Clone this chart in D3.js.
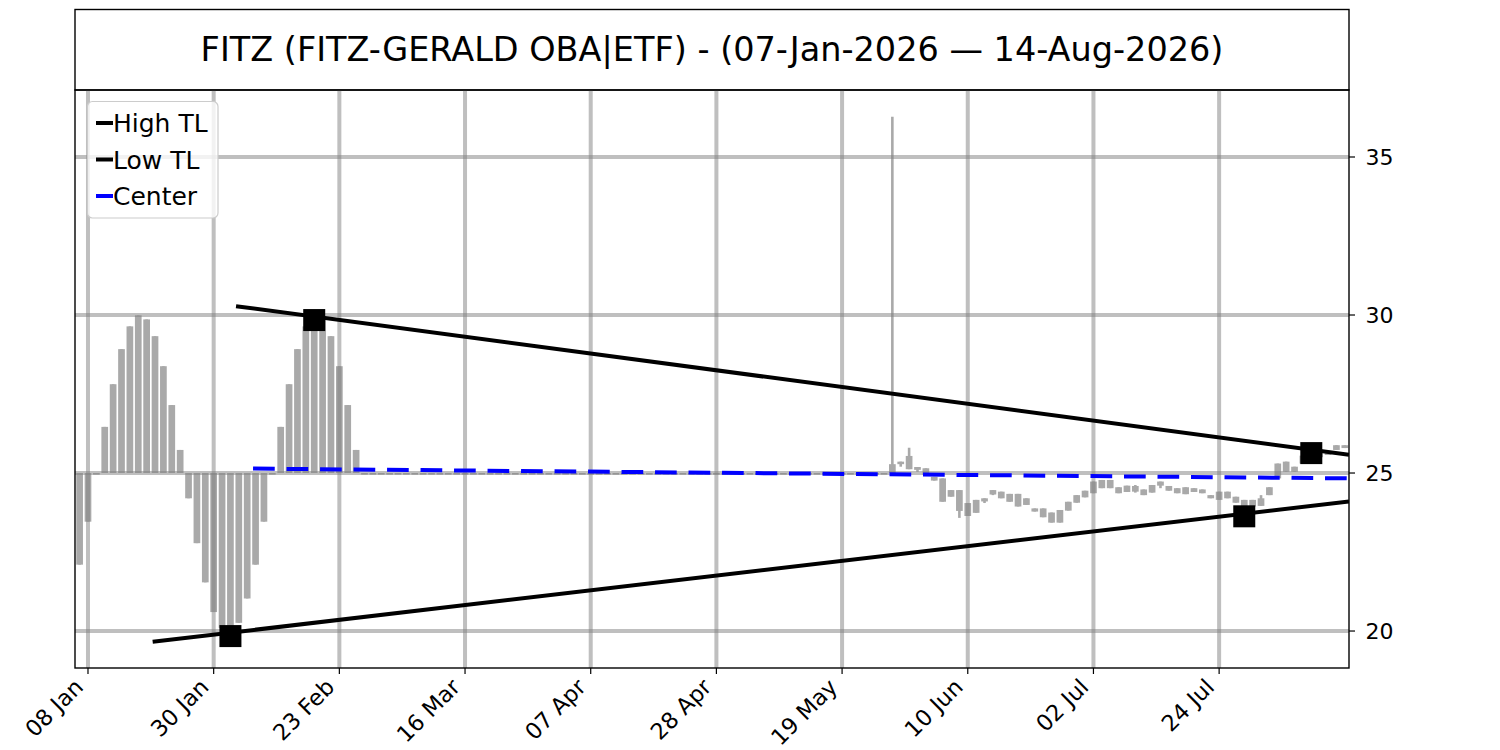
<!DOCTYPE html>
<html>
<head>
<meta charset="utf-8">
<script src="https://cdn.jsdelivr.net/npm/d3@7/dist/d3.min.js"></script>
<style>
  body { margin: 0; background: #fff; }
  text { font-family: "DejaVu Sans", sans-serif; }
</style>
</head>
<body>
<div class="chart"></div>
<script>
var svgWidth = 1500;
var svgHeight = 750;

var margin = {top: 90, right: 151, bottom: 82, left: 75};
var width = svgWidth - margin.left - margin.right;
var height = svgHeight - margin.top - margin.bottom;

var titleText = "FITZ (FITZ-GERALD OBA|ETF) - (07-Jan-2026 \u2014 14-Aug-2026)";

// trading-day index of each date tick
var tickIndex = [1, 16, 31, 46, 61, 76, 91, 106, 121, 136];
var tickLabels = ["08 Jan", "30 Jan", "23 Feb", "16 Mar", "07 Apr", "28 Apr", "19 May", "10 Jun", "02 Jul", "24 Jul"];
var yTicks = [20, 25, 30, 35];

// daily candles, one per trading day (07 Jan .. 14 Aug)
var opens = [
  25, 25, 25, 25, 25, 25, 25, 25, 25, 25,
  25, 25, 25, 25, 25, 25, 25, 25, 25, 25,
  25, 25, 25, 25, 25, 25, 25, 25, 25, 25,
  25, 25, 25, 25, 25, 25, 25, 25, 25, 25,
  25, 25, 25, 25, 25, 25, 25, 25, 25, 25,
  25, 25, 25, 25, 25, 25, 25, 25, 25, 25,
  25, 25, 25, 25, 25, 25, 25, 25, 25, 25,
  25, 25, 25, 25, 25, 25, 25, 25, 25, 25,
  25, 25, 25, 25, 25, 25, 25, 25, 25, 25,
  25, 25, 25, 25, 25, 25, 25, 25, 25.36, 25.12,
  25.19, 25.15, 24.88, 24.83, 24.25, 24.46, 24.05, 23.74, 24.2, 24.32,
  24.41, 24.34, 24.34, 23.99, 23.88, 23.88, 23.75, 23.43, 23.81, 24.06,
  24.23, 24.36, 24.52, 24.78, 24.55, 24.4, 24.59, 24.48, 24.38, 24.73,
  24.59, 24.52, 24.33, 24.52, 24.48, 24.3, 24.15, 24.41, 24.25, 24.15,
  23.94, 23.96, 24.3, 24.83, 25.36, 25.04, 25.3, 25.45, 25.65, 25.57,
  25.73, 25.88
];
var highs = [
  25, 25, 25, 26.46, 27.81, 28.92, 29.64, 29.99, 29.86, 29.33,
  28.38, 27.15, 25.73, 25, 25, 25, 25, 25, 25, 25,
  25, 25, 25, 25, 26.46, 27.81, 28.92, 29.64, 29.99, 29.86,
  29.33, 28.38, 27.15, 25.73, 25, 25, 25, 25, 25, 25,
  25, 25, 25, 25, 25, 25, 25, 25, 25, 25,
  25, 25, 25, 25, 25, 25, 25, 25, 25, 25,
  25, 25, 25, 25, 25, 25, 25, 25, 25, 25,
  25, 25, 25, 25, 25, 25, 25, 25, 25, 25,
  25, 25, 25, 25, 25, 25, 25, 25, 25, 25,
  25, 25, 25, 25, 25, 25, 25, 36.27, 25.36, 25.8,
  25.19, 25.15, 24.88, 24.83, 24.46, 24.46, 24.05, 24.15, 24.2, 24.46,
  24.41, 24.34, 24.34, 24.2, 23.88, 23.88, 23.75, 23.83, 24.09, 24.3,
  24.44, 24.73, 24.78, 24.78, 24.55, 24.6, 24.62, 24.48, 24.62, 24.73,
  24.59, 24.52, 24.55, 24.52, 24.48, 24.3, 24.41, 24.41, 24.25, 24.15,
  24.15, 24.3, 24.55, 25.3, 25.36, 25.2, 25.55, 25.63, 25.65, 25.67,
  25.88, 25.88
];
var lows = [
  22.1, 23.46, 25, 25, 25, 25, 25, 25, 25, 25,
  25, 25, 25, 24.2, 22.78, 21.54, 20.6, 20.1, 19.9, 20.26,
  21.03, 22.1, 23.46, 25, 25, 25, 25, 25, 25, 25,
  25, 25, 25, 25, 25, 25, 25, 25, 25, 25,
  25, 25, 25, 25, 25, 25, 25, 25, 25, 25,
  25, 25, 25, 25, 25, 25, 25, 25, 25, 25,
  25, 25, 25, 25, 25, 25, 25, 25, 25, 25,
  25, 25, 25, 25, 25, 25, 25, 25, 25, 25,
  25, 25, 25, 25, 25, 25, 25, 25, 25, 25,
  25, 25, 25, 25, 25, 25, 25, 25, 25.2, 25.12,
  25.04, 24.94, 24.76, 24.09, 24.25, 23.58, 23.64, 23.74, 24.05, 24.3,
  24.2, 24.09, 23.94, 23.99, 23.78, 23.6, 23.43, 23.43, 23.81, 24.06,
  24.23, 24.36, 24.52, 24.52, 24.36, 24.4, 24.38, 24.3, 24.38, 24.52,
  24.44, 24.36, 24.33, 24.4, 24.36, 24.2, 24.15, 24.2, 24.06, 23.7,
  23.94, 23.96, 24.3, 24.83, 25.04, 25.04, 25.3, 25.45, 25.5, 25.57,
  25.73, 25.79
];
var closes = [
  22.1, 23.46, 25, 26.46, 27.81, 28.92, 29.64, 29.99, 29.86, 29.33,
  28.38, 27.15, 25.73, 24.2, 22.78, 21.54, 20.6, 20.1, 19.9, 20.26,
  21.03, 22.1, 23.46, 25, 26.46, 27.81, 28.92, 29.64, 29.99, 29.86,
  29.33, 28.38, 27.15, 25.73, 25, 25, 25, 25, 25, 25,
  25, 25, 25, 25, 25, 25, 25, 25, 25, 25,
  25, 25, 25, 25, 25, 25, 25, 25, 25, 25,
  25, 25, 25, 25, 25, 25, 25, 25, 25, 25,
  25, 25, 25, 25, 25, 25, 25, 25, 25, 25,
  25, 25, 25, 25, 25, 25, 25, 25, 25, 25,
  25, 25, 25, 25, 25, 25, 25, 25.28, 25.28, 25.54,
  25.1, 24.94, 24.76, 24.09, 24.46, 23.8, 23.64, 24.15, 24.1, 24.46,
  24.2, 24.09, 23.94, 24.2, 23.78, 23.6, 23.43, 23.83, 24.09, 24.3,
  24.44, 24.73, 24.78, 24.52, 24.36, 24.6, 24.41, 24.3, 24.62, 24.6,
  24.44, 24.36, 24.55, 24.4, 24.36, 24.2, 24.41, 24.2, 24.06, 23.7,
  24.15, 24.2, 24.55, 25.3, 25.04, 25.2, 25.55, 25.63, 25.5, 25.67,
  25.88, 25.79
];

// trend lines: [index, price] end points
var highTL = [[18.67, 30.28], [151.5, 25.58]];
var lowTL = [[8.72, 19.66], [151.5, 24.10]];
var centerTL = [[20.7, 25.14], [151.5, 24.83]];
var pivotIndex = [28, 147, 18, 139];
var pivotPrice = [29.84, 25.63, 19.84, 23.63];

var legendNames = ["High TL", "Low TL", "Center"];
var legendColors = ["black", "black", "blue"];

var candles = opens.map(function(o, i) {
  return {i: i, open: o, high: highs[i], low: lows[i], close: closes[i]};
});

var svg = d3.select(".chart")
  .append("svg")
  .attr("width", svgWidth)
  .attr("height", svgHeight);

// title box
svg.append("rect")
  .attr("x", margin.left)
  .attr("y", 9.5)
  .attr("width", width)
  .attr("height", margin.top - 9.5)
  .attr("fill", "white")
  .attr("stroke", "black")
  .attr("stroke-width", 1.4);

svg.append("text")
  .attr("x", margin.left + width / 2)
  .attr("y", 60.5)
  .attr("text-anchor", "middle")
  .attr("font-size", "33.5px")
  .text(titleText);

var chartGroup = svg.append("g")
  .attr("transform", `translate(${margin.left}, ${margin.top})`);

chartGroup.append("clipPath")
  .attr("id", "plot-clip")
  .append("rect")
  .attr("width", width)
  .attr("height", height);

var xScale = d3.scaleLinear()
  .domain([-0.55, 151.5])
  .range([0, width]);

var yScale = d3.scaleLinear()
  .domain([18.83, 37.12])
  .range([height, 0]);

var plot = chartGroup.append("g").attr("clip-path", "url(#plot-clip)");

// candles
var barW = xScale(0.8) - xScale(0);
plot.selectAll(".wick")
  .data(candles)
  .enter()
  .append("line")
  .attr("x1", d => xScale(d.i))
  .attr("x2", d => xScale(d.i))
  .attr("y1", d => yScale(d.high))
  .attr("y2", d => yScale(d.low))
  .attr("stroke", "#a9a9a9")
  .attr("stroke-width", 2.6);

plot.selectAll(".body")
  .data(candles)
  .enter()
  .append("rect")
  .attr("x", d => xScale(d.i) - barW / 2)
  .attr("y", d => yScale(Math.max(d.open, d.close)))
  .attr("width", barW)
  .attr("height", d => Math.max(1.6, Math.abs(yScale(d.open) - yScale(d.close))))
  .attr("fill", "#a9a9a9");

// grid
plot.selectAll(".vgrid")
  .data(tickIndex)
  .enter()
  .append("line")
  .attr("x1", d => xScale(d))
  .attr("x2", d => xScale(d))
  .attr("y1", 0)
  .attr("y2", height)
  .attr("stroke", "#808080")
  .attr("stroke-opacity", 0.5)
  .attr("stroke-width", 4);

plot.selectAll(".hgrid")
  .data(yTicks)
  .enter()
  .append("line")
  .attr("x1", 0)
  .attr("x2", width)
  .attr("y1", d => yScale(d))
  .attr("y2", d => yScale(d))
  .attr("stroke", "#808080")
  .attr("stroke-opacity", 0.5)
  .attr("stroke-width", 4);

// trend lines
var line = d3.line()
  .x(d => xScale(d[0]))
  .y(d => yScale(d[1]));

plot.append("path")
  .attr("d", line(highTL))
  .attr("fill", "none")
  .attr("stroke", "black")
  .attr("stroke-width", 4);

plot.append("path")
  .attr("d", line(lowTL))
  .attr("fill", "none")
  .attr("stroke", "black")
  .attr("stroke-width", 4);

plot.append("path")
  .attr("d", line(centerTL))
  .attr("fill", "none")
  .attr("stroke", "blue")
  .attr("stroke-width", 4)
  .attr("stroke-dasharray", "21.7 11.8");

plot.selectAll(".pivot")
  .data(pivotIndex)
  .enter()
  .append("rect")
  .attr("x", d => xScale(d) - 11)
  .attr("y", (d, k) => yScale(pivotPrice[k]) - 11)
  .attr("width", 22)
  .attr("height", 22)
  .attr("fill", "black");

// axes frame
chartGroup.append("rect")
  .attr("width", width)
  .attr("height", height)
  .attr("fill", "none")
  .attr("stroke", "black")
  .attr("stroke-width", 1.4);

// right axis
var rightAxis = chartGroup.append("g")
  .attr("transform", `translate(${width}, 0)`);

rightAxis.selectAll("line")
  .data(yTicks)
  .enter()
  .append("line")
  .attr("x1", 0)
  .attr("x2", 6)
  .attr("y1", d => yScale(d))
  .attr("y2", d => yScale(d))
  .attr("stroke", "black")
  .attr("stroke-width", 1.2);

rightAxis.selectAll("text")
  .data(yTicks)
  .enter()
  .append("text")
  .attr("x", 16.5)
  .attr("y", d => yScale(d))
  .attr("dy", "0.36em")
  .attr("font-size", "22px")
  .text(d => d);

// bottom axis
var bottomAxis = chartGroup.append("g")
  .attr("transform", `translate(0, ${height})`);

bottomAxis.selectAll("line")
  .data(tickIndex)
  .enter()
  .append("line")
  .attr("x1", d => xScale(d))
  .attr("x2", d => xScale(d))
  .attr("y1", 0)
  .attr("y2", 6)
  .attr("stroke", "black")
  .attr("stroke-width", 1.2);

bottomAxis.selectAll("text")
  .data(tickIndex)
  .enter()
  .append("text")
  .attr("text-anchor", "end")
  .attr("font-size", "22.5px")
  .attr("transform", d => `translate(${xScale(d) - 3.5}, 20.5) rotate(-45)`)
  .text((d, k) => tickLabels[k]);

// legend
var legend = svg.append("g");

legend.append("rect")
  .attr("x", 87.5)
  .attr("y", 101.5)
  .attr("width", 130.5)
  .attr("height", 116.5)
  .attr("rx", 5)
  .attr("fill", "white")
  .attr("fill-opacity", 0.8)
  .attr("stroke", "#cccccc")
  .attr("stroke-width", 1.2);

var legendRows = legend.selectAll(".row")
  .data(legendNames)
  .enter()
  .append("g")
  .attr("transform", (d, k) => `translate(0, ${123 + k * 36.5})`);

legendRows.append("line")
  .attr("x1", 96)
  .attr("x2", 113)
  .attr("stroke", (d, k) => legendColors[k])
  .attr("stroke-width", 4);

legendRows.append("text")
  .attr("x", 113)
  .attr("dy", "0.36em")
  .attr("font-size", "25px")
  .text(d => d);
</script>
</body>
</html>
